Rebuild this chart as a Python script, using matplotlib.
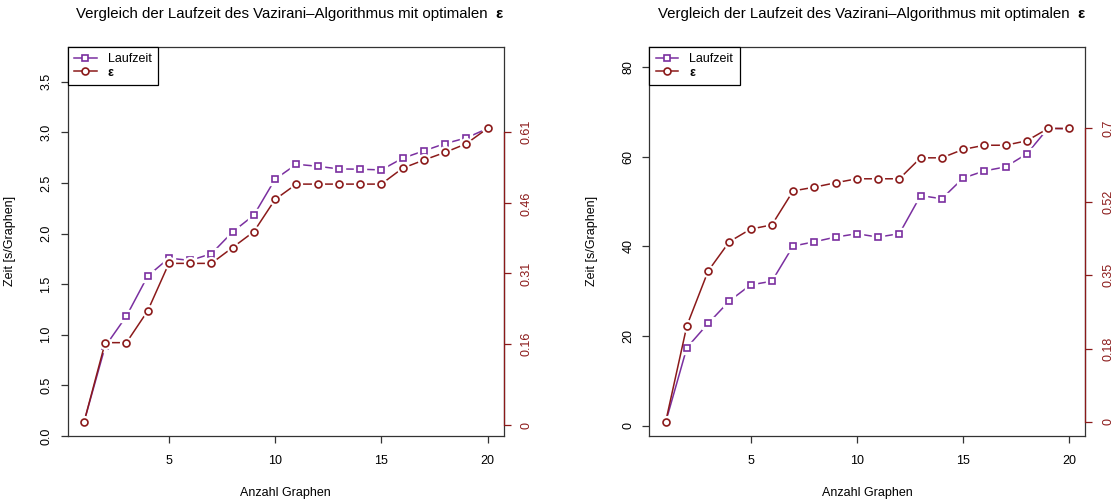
import matplotlib.pyplot as plt
from matplotlib.lines import Line2D

plt.rcParams['font.family'] = ['Liberation Sans', 'DejaVu Sans']
plt.rcParams['font.size'] = 9

# data
anzahl = list(range(1, 21))

laufzeit_links = [0.135, 0.885, 1.184, 1.579, 1.757, 1.734, 1.80, 2.016, 2.181, 2.536,
                  2.684, 2.664, 2.638, 2.635, 2.628, 2.743, 2.816, 2.888, 2.944, 3.037]
eps_links = [0.006, 0.172, 0.172, 0.238, 0.337, 0.337, 0.337, 0.370, 0.403, 0.470,
             0.502, 0.502, 0.502, 0.502, 0.502, 0.535, 0.552, 0.568, 0.586, 0.618]

laufzeit_rechts = [0.75, 17.4, 22.8, 27.8, 31.4, 32.2, 40.05, 41.0, 42.05, 42.8,
                   42.05, 42.8, 51.3, 50.6, 55.2, 56.8, 57.7, 60.6, 66.3, 66.2]
eps_rechts = [0.0, 0.2296, 0.36, 0.43, 0.46, 0.47, 0.551, 0.560, 0.5705, 0.58,
              0.58, 0.58, 0.63, 0.63, 0.65, 0.66, 0.66, 0.6706, 0.70, 0.70]

yticks_links = [0, 0.5, 1.0, 1.5, 2.0, 2.5, 3.0, 3.5]
ylabels_links = ['0.0', '0.5', '1.0', '1.5', '2.0', '2.5', '3.0', '3.5']
eps_ticks_links = [0, 0.169, 0.316, 0.462, 0.61]
eps_labels_links = ['0', '0.16', '0.31', '0.46', '0.61']

yticks_rechts = [0, 20, 40, 60, 80]
ylabels_rechts = ['0', '20', '40', '60', '80']
eps_ticks_rechts = [0, 0.175, 0.35, 0.525, 0.7]
eps_labels_rechts = ['0', '0.18', '0.35', '0.52', '0.7']

xticks = [5, 10, 15, 20]

lila = '#7A2FA0'
rot = '#8B1A1A'
rahmen = '#333333'
titel = 'Vergleich der Laufzeit des Vazirani\u2013Algorithmus mit optimalen  '


def reihe(ax, y, farbe, marker, ms):
    ax.plot(anzahl, y, color=farbe, lw=1.1, zorder=2)
    ax.plot(anzahl, y, ls='none', marker=marker, ms=ms + 3.5, mfc='white',
            mec='white', zorder=3)
    ax.plot(anzahl, y, ls='none', marker=marker, ms=ms, mfc='white',
            mec=farbe, mew=1.2, zorder=4)


def panel(rect, laufzeit, eps, ylim, yticks, ylabels, eps_lim, eps_ticks, eps_labels):
    ax = fig.add_axes(rect)
    ax.set_xlim(0.24, 20.76)
    ax.set_ylim(*ylim)
    ax.set_xticks(xticks)
    ax.set_yticks(yticks)
    ax.set_yticklabels(ylabels)
    for s in ax.spines.values():
        s.set_color(rahmen)
        s.set_linewidth(0.9)
    ax.tick_params(length=5, width=0.9, color=rahmen, labelsize=9)
    ax.tick_params(axis='x', pad=9)
    ax.tick_params(axis='y', pad=6)
    plt.setp(ax.get_yticklabels(), rotation=90, va='center')
    ax.set_xlabel('Anzahl Graphen', fontsize=9)
    ax.xaxis.set_label_coords(0.5, -0.13)
    ax.set_ylabel('Zeit [s/Graphen]', fontsize=9)
    ax.yaxis.set_label_coords(-0.119, 0.5)
    reihe(ax, laufzeit, lila, 's', 5)

    ax2 = ax.twinx()
    ax2.set_ylim(*eps_lim)
    ax2.set_yticks(eps_ticks)
    ax2.set_yticklabels(eps_labels)
    for k in ['top', 'bottom', 'left']:
        ax2.spines[k].set_visible(False)
    ax2.spines['right'].set_color(rot)
    ax2.spines['right'].set_linewidth(0.9)
    ax2.spines['right'].set_bounds(eps_ticks[0], eps_ticks[-1])
    ax2.tick_params(length=5, width=0.9, color=rot, labelcolor=rot, labelsize=9, pad=7)
    plt.setp(ax2.get_yticklabels(), rotation=90, va='center')
    reihe(ax2, eps, rot, 'o', 5)

    handles = [Line2D([], [], color=lila, lw=1.1, marker='s', ms=5, mfc='white', mew=1.2),
               Line2D([], [], color=rot, lw=1.1, marker='o', ms=5, mfc='white', mew=1.2)]
    leg = ax2.legend(handles, ['Laufzeit', '\u03b5'], loc='upper left', borderaxespad=0,
                     fancybox=False, framealpha=1, edgecolor='black', fontsize=9,
                     handlelength=1.8, handletextpad=0.9, labelspacing=0.15,
                     borderpad=0.5)
    leg.get_frame().set_linewidth(0.9)
    leg.get_texts()[1].set_fontweight('bold')

    t = ax.text(0.5, 1.084, titel, transform=ax.transAxes, ha='center', va='center',
                fontsize=10.8)
    ax.annotate('\u03b5', xy=(1, 0), xycoords=t, ha='left', va='bottom',
                fontsize=10.8, fontweight='bold')
    return ax


fig = plt.figure(figsize=(11.15, 5), dpi=100)

panel([0.0608, 0.128, 0.3909, 0.7786], laufzeit_links, eps_links, (0, 3.845),
      yticks_links, ylabels_links, (-0.0223, 0.788), eps_ticks_links, eps_labels_links)
panel([0.5825, 0.128, 0.3910, 0.7786], laufzeit_rechts, eps_rechts, (-2.3, 84.5),
      yticks_rechts, ylabels_rechts, (-0.0334, 0.895), eps_ticks_rechts, eps_labels_rechts)

fig.savefig('out.png', dpi=100)
